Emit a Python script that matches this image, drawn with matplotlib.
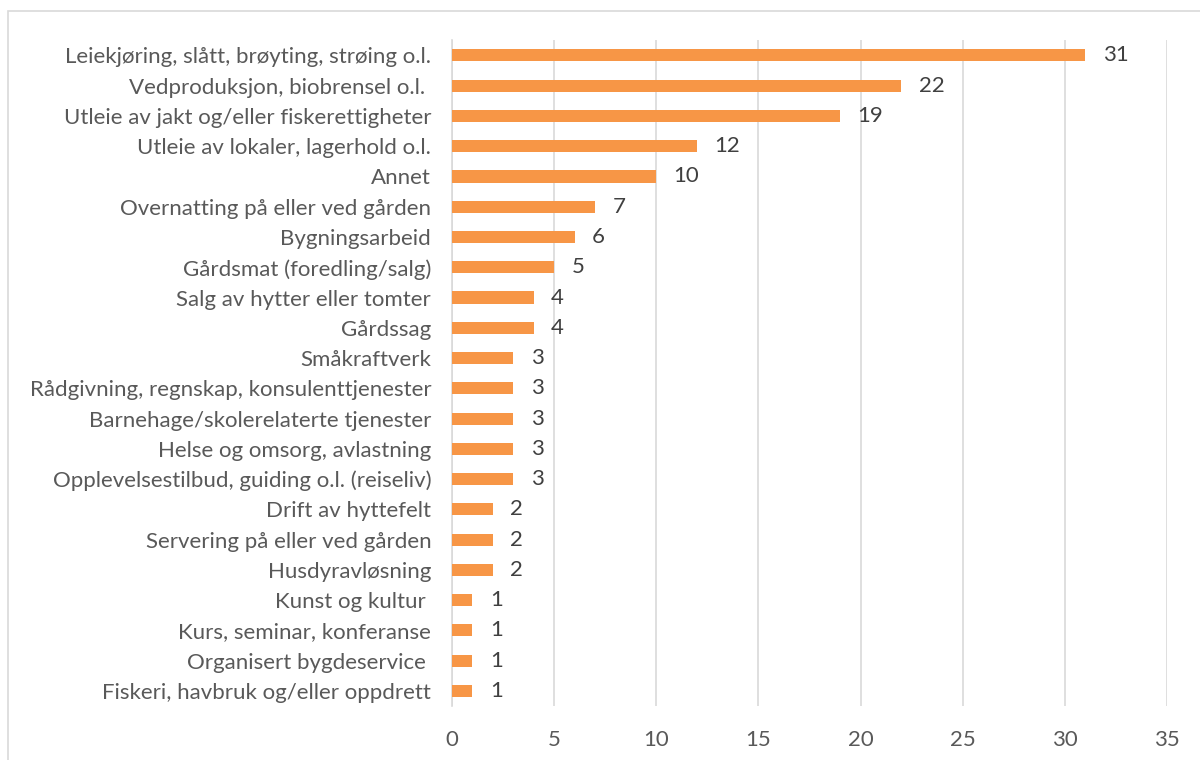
import matplotlib.pyplot as plt
from matplotlib.patches import Rectangle

categories = [
    "Leiekjøring, slått, brøyting, strøing o.l.",
    "Vedproduksjon, biobrensel o.l. ",
    "Utleie av jakt og/eller fiskerettigheter",
    "Utleie av lokaler, lagerhold o.l.",
    "Annet",
    "Overnatting på eller ved gården",
    "Bygningsarbeid",
    "Gårdsmat (foredling/salg)",
    "Salg av hytter eller tomter",
    "Gårdssag",
    "Småkraftverk",
    "Rådgivning, regnskap, konsulenttjenester",
    "Barnehage/skolerelaterte tjenester",
    "Helse og omsorg, avlastning",
    "Opplevelsestilbud, guiding o.l. (reiseliv)",
    "Drift av hyttefelt",
    "Servering på eller ved gården",
    "Husdyravløsning",
    "Kunst og kultur ",
    "Kurs, seminar, konferanse",
    "Organisert bygdeservice ",
    "Fiskeri, havbruk og/eller oppdrett",
]
values = [31, 22, 19, 12, 10, 7, 6, 5, 4, 4, 3, 3, 3, 3, 3, 2, 2, 2, 1, 1, 1, 1]
x_ticks = [0, 5, 10, 15, 20, 25, 30, 35]

plt.rcParams['font.family'] = ['Lato', 'DejaVu Sans']
text_color = '#595959'
fs = 16

fig = plt.figure(figsize=(12, 7.6), dpi=100)
ax = fig.add_axes([0.3767, 0.071, 0.5958, 0.876])

ypos = list(range(len(categories)))
ax.barh(ypos, values, height=0.4, color='#F79646', zorder=3)
for y, v in zip(ypos, values):
    ax.text(v + 0.85, y, str(v), va='center', ha='left', fontsize=fs, color='#404040')

ax.set_yticks(ypos)
ax.set_yticklabels(categories, fontsize=fs, color=text_color)
ax.set_ylim(len(categories) - 0.5, -0.5)
ax.set_xlim(0, 35)
ax.set_xticks(x_ticks)
ax.set_xticklabels([str(t) for t in x_ticks], fontsize=fs, color=text_color)
ax.tick_params(axis='both', length=0)
ax.tick_params(axis='x', pad=17)
ax.tick_params(axis='y', pad=15)
ax.grid(axis='x', color='#d9d9d9', linewidth=1.2, zorder=0)
for s in ['top', 'right', 'bottom']:
    ax.spines[s].set_visible(False)
ax.spines['left'].set_color('#d9d9d9')
ax.spines['left'].set_linewidth(1.2)

fig.patches.append(Rectangle((8 / 1200, -0.05), 1.1, 1 - 11 / 760 + 0.05,
                             transform=fig.transFigure, fill=False,
                             edgecolor='#d9d9d9', linewidth=1.2))

fig.savefig('out.png', dpi=100)
